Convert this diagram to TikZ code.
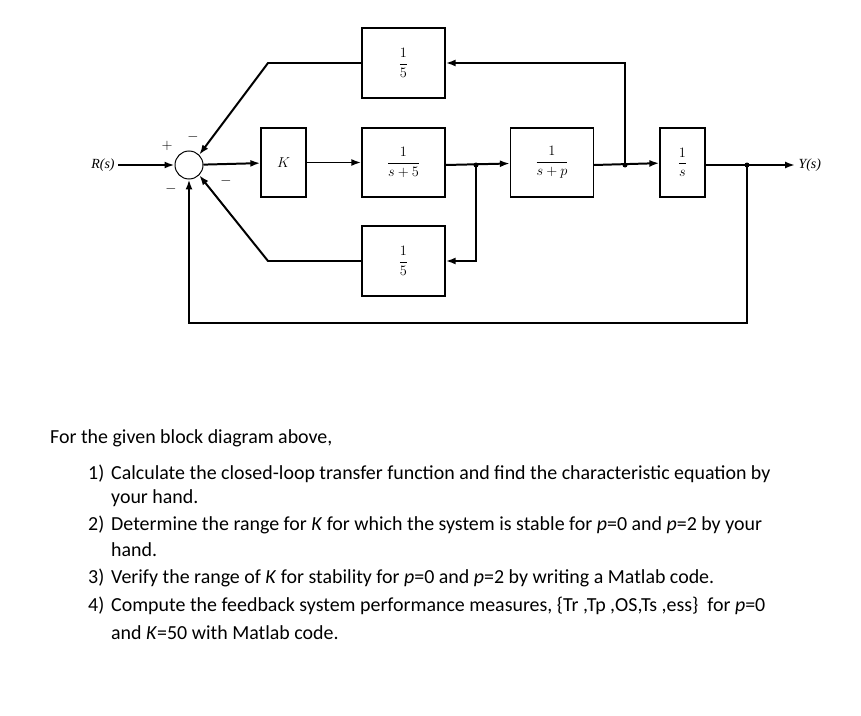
\documentclass[tikz,border=0pt]{standalone}
\usepackage{fontspec}
\setmainfont{Carlito}
\newfontfamily\diagfont{Liberation Serif}
\usetikzlibrary{arrows.meta}
\tikzset{
  blk/.style={draw,line width=1.3pt,inner sep=0pt,font=\fontsize{15}{16}\selectfont},
  sig/.style={line width=2pt,-{Latex[length=10pt,width=7pt]}},
  txt/.style={anchor=base west,inner sep=0pt,font=\fontsize{20}{24}\selectfont}
}
\newcommand{\tf}[2]{$\displaystyle\frac{#1}{#2}$}
\begin{document}
\begin{tikzpicture}[x=1bp, y=-1bp]
            \useasboundingbox (0,0) rectangle (861,716);
            \node[draw,circle,line width=1pt,minimum size=28bp,inner sep=0pt] (S) at (189,165) {};
            \node[blk,minimum width=45bp,minimum height=69bp] (K) at (283.5,162.5) {$K$};
            \node[blk,minimum width=83bp,minimum height=69bp] (G_1) at (403.5,162.5) {\tf{1}{s+5}};
            \node[blk,minimum width=83bp,minimum height=69bp] (G_2) at (552,162.5) {\tf{1}{s+p}};
            \node[blk,minimum width=45bp,minimum height=69bp] (G_3) at (682.5,162.5) {\tf{1}{s}};
            \node[blk,minimum width=83bp,minimum height=70bp] (H_1) at (403.5,63) {\tf{1}{5}};
            \node[blk,minimum width=83bp,minimum height=70bp] (H_2) at (403.5,261) {\tf{1}{5}};
            \node[font=\diagfont\itshape\fontsize{14}{16}\selectfont] (R) at (103,165) {R(s)};
            \node[font=\diagfont\itshape\fontsize{14}{16}\selectfont,anchor=west] (Y) at (795,165) {Y(s)};
            \coordinate (J_1) at (476,165);
            \coordinate (J_2) at (625,165);
            \coordinate (J_3) at (747,165);
            \coordinate (B_1) at (268,63);
            \coordinate (B_2) at (268,261);

            \draw[sig] (R) -- (S);
            \draw[sig] (S) -- (K);
            \draw[sig] (K) -- (G_1);
            \draw[sig] (G_1.east |- J_1) -- (G_2);
            \draw[sig] (G_2.east |- J_2) -- (G_3);
            \draw[sig] (G_3.east |- J_3) -- (Y);
            \draw[sig] (J_1) |- (H_2);
            \draw[sig] (J_2) |- (H_1);
            \draw[sig] (H_1) -- (B_1) -- (S.north east);
            \draw[sig] (H_2) -- (B_2) -- (S.south east);
            \draw[sig] (J_3) -- (747,323) -| (S);
            \foreach \j in {J_1,J_2,J_3} \fill (\j) circle (2.5bp);

            \node[font=\fontsize{14}{14}\selectfont] at (167,146) {$+$};
            \node[font=\fontsize{14}{14}\selectfont] at (193,137) {$-$};
            \node[font=\fontsize{14}{14}\selectfont] at (226,181) {$-$};
            \node[font=\fontsize{14}{14}\selectfont] at (171,189) {$-$};

            \node[txt] (T_0) at (50,443) {For the given block diagram above,};
            \node[txt] (N_1) at (88,479) {1)};
            \node[txt] (T_1) at (111,479) {Calculate the closed-loop transfer function and find the characteristic equation by};
            \node[txt] (T_2) at (111,503) {your hand.};
            \node[txt] (N_2) at (88,530) {2)};
            \node[txt] (T_3) at (111,530) {Determine the range for \textit{K} for which the system is stable for \textit{p}=0 and \textit{p}=2 by your};
            \node[txt] (T_4) at (111,556) {hand.};
            \node[txt] (N_3) at (88,583) {3)};
            \node[txt] (T_5) at (111,583) {Verify the range of \textit{K} for stability for \textit{p}=0 and \textit{p}=2 by writing a Matlab code.};
            \node[txt] (N_4) at (88,611) {4)};
            \node[txt] (T_6) at (111,611) {Compute the feedback system performance measures, \{Tr ,Tp ,OS,Ts ,ess\}\ \ for \textit{p}=0};
            \node[txt] (T_7) at (111,639) {and \textit{K}=50 with Matlab code.};
\end{tikzpicture}
\end{document}
